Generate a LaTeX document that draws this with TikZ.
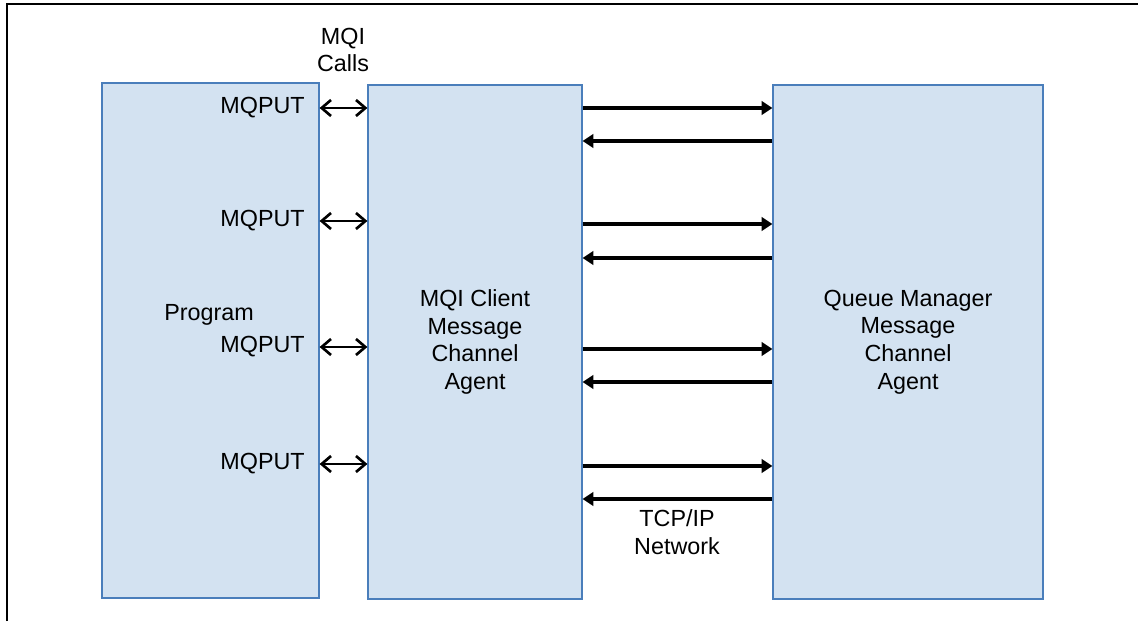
\documentclass[tikz,border=0pt]{standalone}
\usepackage{fontspec}
\setmainfont{Liberation Sans}
\usetikzlibrary{arrows.meta,shadows}
\definecolor{boxfill}{RGB}{211,226,241}
\definecolor{boxline}{RGB}{74,126,187}
\definecolor{boxshade}{RGB}{37,64,97}
\tikzstyle{agent}=[draw=boxline, fill=boxfill, line width=0.9pt, inner sep=0pt, align=center, font=\fontsize{17.5}{20.8}\selectfont, drop shadow={shadow xshift=1pt, shadow yshift=-1pt, opacity=1, fill=boxshade}]
\tikzstyle{txt}=[inner sep=0pt, align=center, font=\fontsize{17.5}{20.8}\selectfont]
\tikzstyle{call}=[line width=2pt, {Straight Barb[length=7pt,width=12pt]}-{Straight Barb[length=7pt,width=12pt]}]
\tikzstyle{link}=[line width=2.3pt, -{Triangle[length=8pt,width=10pt]}]

\begin{document}
\begin{tikzpicture}[x=0.75pt, y=-0.75pt]
            \useasboundingbox (0,0) rectangle (1138,621);
            \draw[line width=1.1pt] (7,621) -- (7,4) -- (1138,4);
            \node[agent, minimum width=162.75pt, minimum height=386.25pt] (prog) at (210.5,340.5) {};
            \node[agent, minimum width=160.5pt, minimum height=385.5pt] (mca) at (475,342) {MQI Client\\Message\\Channel\\Agent};
            \node[agent, minimum width=202.5pt, minimum height=385.5pt] (qmca) at (908,342) {Queue Manager\\Message\\Channel\\Agent};
            \node[txt] (prgname) at (209,315) {Program};
            \node[txt] (calls) at (343,50) {MQI\\Calls};
            \node[txt] (tcpip) at (677,532) {TCP/IP\\Network};
            \node[txt, anchor=east] (put1) at (305,108) {MQPUT};
            \node[txt, anchor=east] (put2) at (305,221) {MQPUT};
            \node[txt, anchor=east] (put3) at (305,347) {MQPUT};
            \node[txt, anchor=east] (put4) at (305,464) {MQPUT};
            \draw[call] (prog.east |- put1) -- (mca.west |- put1);
            \draw[call] (prog.east |- put2) -- (mca.west |- put2);
            \draw[call] (prog.east |- put3) -- (mca.west |- put3);
            \draw[call] (prog.east |- put4) -- (mca.west |- put4);
            \draw[link] (mca.east |- 0,108) -- (qmca.west |- 0,108);
            \draw[link] (qmca.west |- 0,141) -- (mca.east |- 0,141);
            \draw[link] (mca.east |- 0,224) -- (qmca.west |- 0,224);
            \draw[link] (qmca.west |- 0,258) -- (mca.east |- 0,258);
            \draw[link] (mca.east |- 0,349) -- (qmca.west |- 0,349);
            \draw[link] (qmca.west |- 0,382) -- (mca.east |- 0,382);
            \draw[link] (mca.east |- 0,466) -- (qmca.west |- 0,466);
            \draw[link] (qmca.west |- 0,499) -- (mca.east |- 0,499);
\end{tikzpicture}
\end{document}
